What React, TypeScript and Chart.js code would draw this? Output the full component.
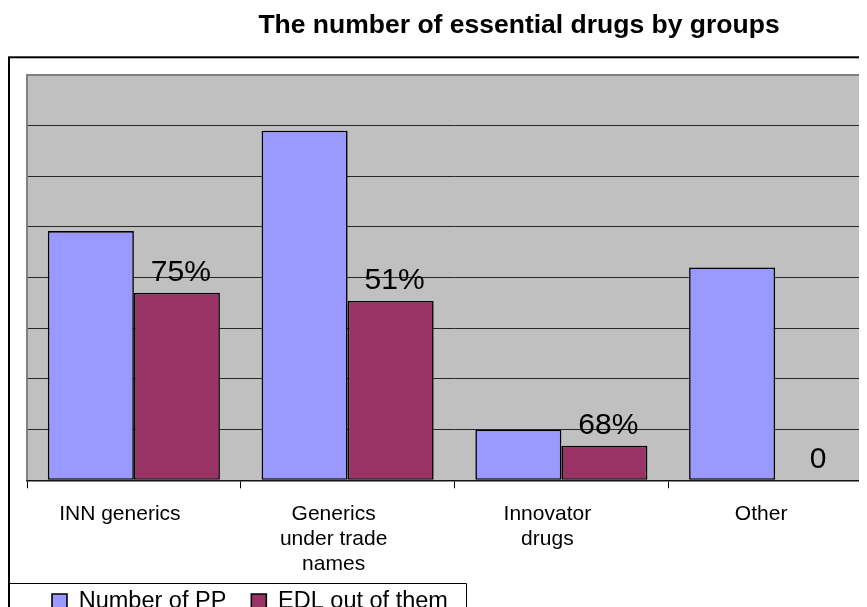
import { useEffect, useRef } from "react";
import { Chart, registerables } from "chart.js";

Chart.register(...registerables);

// Categories (multi-line labels as arrays)
const categories: string[][] = [
  ["INN generics"],
  ["Generics", "under trade", "names"],
  ["Innovator", "drugs"],
  ["Other"],
];

// Series values
const numberOfPP = [246, 345, 50, 210];
const edlOutOfThem = [185, 177, 34, 0];

const seriesNames = ["Number of PP", "EDL out of them"];

// Value axis ticks
const Y_MIN = 0;
const Y_MAX = 400;
const Y_STEP = 50;

const TITLE = "The number of essential drugs by groups";
const FONT = '"Liberation Sans", Arial, Helvetica, sans-serif';

const CANVAS_W = 1003;
const CANVAS_H = 680;

// Share of EDL within each group, written above the EDL bar
const shareLabels = edlOutOfThem.map((v, i) =>
  v === 0 ? "0" : `${Math.round((v / numberOfPP[i]) * 100)}%`
);

const framePlugin = {
  id: "frame",
  afterLayout(chart: any) {
    // let the three-line category labels run past the axis box without being clipped
    const x = chart.scales.x;
    x.bottom = x.top + 120;
  },
  beforeDraw(chart: any) {
    const { ctx, chartArea: a } = chart;
    ctx.save();
    ctx.fillStyle = "#c0c0c0";
    ctx.fillRect(a.left, a.top, a.right - a.left, a.bottom - a.top);
    ctx.restore();
  },
  beforeDatasetsDraw(chart: any) {
    const { ctx, chartArea: a } = chart;
    ctx.save();
    ctx.strokeStyle = "#808080";
    ctx.lineWidth = 2;
    ctx.beginPath();
    ctx.moveTo(a.left, a.bottom);
    ctx.lineTo(a.left, a.top);
    ctx.lineTo(a.right + 20, a.top);
    ctx.stroke();
    ctx.restore();
  },
  afterDatasetsDraw(chart: any) {
    const { ctx } = chart;
    const meta = chart.getDatasetMeta(1);
    ctx.save();
    ctx.fillStyle = "#000";
    ctx.font = `30px ${FONT}`;
    ctx.textAlign = "center";
    ctx.textBaseline = "alphabetic";
    meta.data.forEach((bar: any, i: number) => {
      const shift = edlOutOfThem[i] === 0 ? 0 : 4;
      ctx.fillText(shareLabels[i], bar.x + shift, bar.y - 12);
    });
    ctx.restore();
  },
  afterDraw(chart: any) {
    const { ctx, width, height } = chart;
    ctx.save();
    // outer chart border
    ctx.strokeStyle = "#000";
    ctx.lineWidth = 2;
    ctx.strokeRect(1, 49.3, width + 20, height + 20);
    // legend frame
    const lg = chart.legend;
    const hb = lg.legendHitBoxes;
    if (hb && hb.length) {
      const last = hb[hb.length - 1];
      const right = Math.round(last.left + last.width + 18) + 0.5;
      const top = Math.round(lg.top + 18) + 0.5;
      ctx.lineWidth = 1;
      ctx.beginPath();
      ctx.moveTo(1, top);
      ctx.lineTo(right, top);
      ctx.lineTo(right, height + 5);
      ctx.stroke();
    }
    ctx.restore();
  },
};

export default function App() {
  const canvasRef = useRef<HTMLCanvasElement | null>(null);

  useEffect(() => {
    const canvas = canvasRef.current;
    if (!canvas) return;
    const chart = new Chart(canvas, {
      type: "bar",
      data: {
        labels: categories,
        datasets: [
          {
            label: seriesNames[0],
            data: numberOfPP,
            backgroundColor: "#9999ff",
            borderColor: "#000",
            borderWidth: 1.6,
            borderSkipped: false,
            categoryPercentage: 0.805,
            barPercentage: 1,
          },
          {
            label: seriesNames[1],
            data: edlOutOfThem,
            backgroundColor: "#993366",
            borderColor: "#000",
            borderWidth: 1.6,
            borderSkipped: false,
            categoryPercentage: 0.805,
            barPercentage: 1,
          },
        ],
      },
      options: {
        responsive: false,
        animation: false,
        devicePixelRatio: 1,
        layout: { padding: { left: 19, right: 0, top: 0, bottom: 64.8 } },
        plugins: {
          title: {
            display: true,
            text: TITLE,
            color: "#000",
            font: { family: FONT, size: 26.5, weight: "bold" },
            padding: { top: 1.9, bottom: 33.3 },
          },
          legend: {
            display: true,
            position: "bottom",
            align: "start",
            labels: {
              color: "#000",
              boxWidth: 15,
              boxHeight: 15,
              padding: 25,
              font: { family: FONT, size: 23.5 },
            },
          },
          tooltip: { enabled: false },
        },
        scales: {
          x: {
            type: "category",
            grid: {
              display: true,
              offset: true,
              drawOnChartArea: false,
              drawTicks: true,
              tickLength: 8,
              color: "#000",
              lineWidth: 1,
            },
            border: { display: true, color: "#111", width: 1.5 },
            ticks: {
              color: "#000",
              font: { family: FONT, size: 21 },
              padding: 13,
              labelOffset: -14,
              autoSkip: false,
              maxRotation: 0,
              minRotation: 0,
            },
            afterFit: (s: any) => {
              s.height = 84.4;
            },
          },
          y: {
            type: "linear",
            position: "left",
            min: Y_MIN,
            max: Y_MAX,
            ticks: { display: false, stepSize: Y_STEP },
            grid: { color: "#262626", lineWidth: 1, drawTicks: false },
            border: { display: false },
            afterFit: (s: any) => {
              s.width = 0;
            },
          },
          pad: {
            type: "linear",
            position: "right",
            display: true,
            ticks: { display: false },
            grid: { display: false, drawTicks: false },
            border: { display: false },
            afterFit: (s: any) => {
              s.width = 129;
            },
          },
        },
      },
      plugins: [framePlugin],
    });
    return () => chart.destroy();
  }, []);

  return (
    <div style={{ width: 859, height: 599, overflow: "hidden", position: "relative" }}>
      <canvas
        ref={canvasRef}
        width={CANVAS_W}
        height={CANVAS_H}
        style={{ display: "block", width: CANVAS_W, height: CANVAS_H }}
      />
    </div>
  );
}
